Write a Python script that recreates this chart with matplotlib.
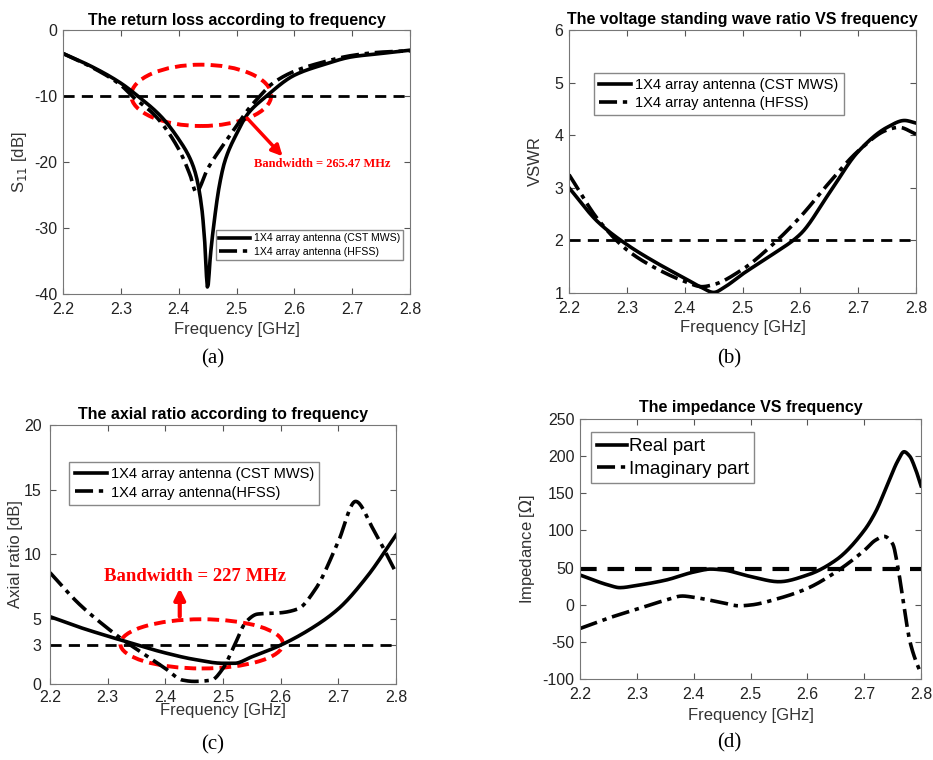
import matplotlib
matplotlib.use("Agg")
import matplotlib.pyplot as plt
from matplotlib.patches import Ellipse
import numpy as np

plt.rcParams['font.family'] = ['Liberation Sans', 'DejaVu Sans']
plt.rcParams['axes.unicode_minus'] = False

# (a) return loss
freq_a_cst = [2.2, 2.25, 2.3, 2.33, 2.37, 2.4, 2.42, 2.43, 2.44, 2.445, 2.45,
              2.455, 2.46, 2.47, 2.48, 2.5, 2.52, 2.55, 2.6, 2.65, 2.7, 2.75, 2.8]
s11_cst = [-3.5, -5.5, -8.0, -10.0, -13.1, -16.5, -19.5, -22.0, -27.0, -32.0, -39.0,
           -34.0, -30.0, -23.7, -19.8, -15.7, -12.6, -10.1, -6.8, -5.2, -4.0, -3.5, -3.0]
freq_a_hfss = [2.2, 2.25, 2.3, 2.32, 2.36, 2.4, 2.42, 2.43, 2.45, 2.48, 2.5, 2.52,
               2.54, 2.56, 2.6, 2.65, 2.7, 2.75, 2.8]
s11_hfss = [-3.5, -5.6, -8.3, -10.0, -13.0, -18.0, -22.0, -24.5, -21.0, -17.0, -14.5,
            -12.0, -10.0, -8.2, -6.2, -4.8, -3.8, -3.3, -3.1]

# (b) VSWR
freq_b_cst = [2.2, 2.25, 2.3, 2.35, 2.4, 2.43, 2.45, 2.47, 2.5, 2.55, 2.6, 2.65,
              2.7, 2.75, 2.78, 2.8]
vswr_cst = [3.0, 2.35, 1.92, 1.58, 1.28, 1.1, 1.01, 1.12, 1.36, 1.72, 2.12, 2.9,
            3.69, 4.15, 4.28, 4.23]
freq_b_hfss = [2.2, 2.25, 2.3, 2.35, 2.4, 2.43, 2.45, 2.5, 2.55, 2.6, 2.65, 2.7,
               2.75, 2.77, 2.8]
vswr_hfss = [3.25, 2.4, 1.82, 1.47, 1.22, 1.12, 1.16, 1.45, 1.9, 2.45, 3.1, 3.7,
             4.1, 4.15, 4.02]

# (c) axial ratio
freq_c_cst = [2.2, 2.25, 2.3, 2.33, 2.4, 2.45, 2.5, 2.52, 2.55, 2.6, 2.65, 2.7,
              2.75, 2.8]
ar_cst = [5.2, 4.4, 3.7, 3.3, 2.4, 1.9, 1.6, 1.6, 2.1, 3.0, 4.2, 5.8, 8.3, 11.5]
freq_c_hfss = [2.2, 2.25, 2.3, 2.33, 2.37, 2.4, 2.43, 2.45, 2.48, 2.5, 2.52, 2.54,
               2.56, 2.6, 2.63, 2.66, 2.7, 2.73, 2.76, 2.8]
ar_hfss = [8.6, 6.2, 4.3, 3.3, 2.1, 1.2, 0.3, 0.2, 0.3, 1.2, 3.0, 4.8, 5.4, 5.5,
           5.8, 7.3, 11.0, 14.1, 12.0, 8.6]

# (d) impedance
freq_d = [2.2, 2.25, 2.27, 2.3, 2.35, 2.4, 2.43, 2.45, 2.5, 2.55, 2.6, 2.65, 2.7,
          2.72, 2.74, 2.76, 2.77, 2.78, 2.79, 2.8]
z_real = [40, 26.5, 23, 26, 33, 44, 48, 47, 38, 31, 40, 60, 100, 125, 160, 195,
          206, 200, 183, 160]
freq_d_im = [2.2, 2.25, 2.3, 2.35, 2.38, 2.4, 2.45, 2.48, 2.5, 2.55, 2.6, 2.65,
             2.7, 2.72, 2.735, 2.75, 2.76, 2.77, 2.78, 2.79, 2.8]
z_imag = [-32, -18, -6, 6, 11.7, 10, 2.8, -1.5, -0.4, 8.6, 22, 44, 73, 87, 92,
          82, 47, -3, -48, -74, -93]

labels_sim = ["1X4 array antenna (CST MWS)", "1X4 array antenna (HFSS)"]
labels_sim_c = ["1X4 array antenna (CST MWS)", "1X4 array antenna(HFSS)"]
labels_z = ["Real part", "Imaginary part"]


def smooth(x, y, n=400):
    # monotone piecewise cubic (Fritsch-Carlson) through the read points
    x = np.asarray(x, float)
    y = np.asarray(y, float)
    h = np.diff(x)
    d = np.diff(y) / h
    m = np.zeros_like(y)
    m[0], m[-1] = d[0], d[-1]
    for k in range(1, len(x) - 1):
        if d[k - 1] * d[k] > 0:
            w1 = 2 * h[k] + h[k - 1]
            w2 = h[k] + 2 * h[k - 1]
            m[k] = (w1 + w2) / (w1 / d[k - 1] + w2 / d[k])
    xs = np.linspace(x[0], x[-1], n)
    k = np.clip(np.searchsorted(x, xs, side="right") - 1, 0, len(x) - 2)
    t = (xs - x[k]) / h[k]
    ys = ((2 * t ** 3 - 3 * t ** 2 + 1) * y[k] + (t ** 3 - 2 * t ** 2 + t) * h[k] * m[k]
          + (-2 * t ** 3 + 3 * t ** 2) * y[k + 1] + (t ** 3 - t ** 2) * h[k] * m[k + 1])
    return xs, ys


def style_ax(ax):
    ax.tick_params(direction="in", top=True, right=True, labelsize=11.5,
                   color="#555555", length=4, labelcolor="#222222")
    ax.tick_params(axis="x", pad=6)
    ax.tick_params(axis="y", pad=4)
    for sp in ax.spines.values():
        sp.set_color("#777777")
    ax.set_xlim(2.2, 2.8)
    ax.set_xticks([2.2, 2.3, 2.4, 2.5, 2.6, 2.7, 2.8])


lw = 2.6
hd = (0, (4, 2.6))
dd = (0, (5, 1.6, 1.2, 1.6))
leg_kw = dict(fancybox=False, edgecolor="#888888", framealpha=1)

fig = plt.figure(figsize=(9.33, 7.6), dpi=100)

# (a)
ax = fig.add_axes([0.0675, 0.613, 0.372, 0.347])
ax.plot(*smooth(freq_a_cst, s11_cst), "k-", lw=lw, label=labels_sim[0])
ax.plot(*smooth(freq_a_hfss, s11_hfss), "k", ls=dd, lw=lw, label=labels_sim[1])
ax.axhline(-10, color="k", ls=hd, lw=2)
ax.add_patch(Ellipse((2.439, -9.85), 0.242, 9.3, fill=False, ec="red",
                     lw=2.8, ls=(0, (3, 1.6))))
ax.annotate("", xy=(2.583, -19.4), xytext=(2.515, -13.0),
            arrowprops=dict(arrowstyle="-|>", color="red", lw=2.5,
                            mutation_scale=16))
ax.text(2.649, -20.3, "Bandwidth = 265.47 MHz", color="red", fontsize=9,
        fontweight="bold", family="Liberation Serif", ha="center", va="center")
ax.set_ylim(-40, 0)
ax.set_yticks([-40, -30, -20, -10, 0])
style_ax(ax)
ax.set_title("The return loss according to frequency", fontsize=11.5,
             fontweight="bold", pad=4)
ax.set_xlabel("Frequency [GHz]", fontsize=12, labelpad=3, color="#333333")
ax.set_ylabel("S$_{11}$ [dB]", fontsize=12, labelpad=4, color="#333333")
ax.legend(loc="lower right", fontsize=7.6, handlelength=3, borderpad=0.3,
          labelspacing=0.3, handletextpad=0.3, bbox_to_anchor=(0.995, 0.11),
          **leg_kw)
fig.text(0.2283, 0.528, "(a)", fontsize=15, family="Liberation Serif",
         ha="center", va="center")

# (b)
ax = fig.add_axes([0.6099, 0.6145, 0.372, 0.346])
ax.plot(*smooth(freq_b_cst, vswr_cst), "k-", lw=lw, label=labels_sim[0])
ax.plot(*smooth(freq_b_hfss, vswr_hfss), "k", ls=dd, lw=lw, label=labels_sim[1])
ax.axhline(2, color="k", ls=hd, lw=2)
ax.set_ylim(1, 6)
ax.set_yticks([1, 2, 3, 4, 5, 6])
style_ax(ax)
ax.set_title("The voltage standing wave ratio VS frequency", fontsize=11.5,
             fontweight="bold", pad=4)
ax.set_xlabel("Frequency [GHz]", fontsize=12, labelpad=3, color="#333333")
ax.set_ylabel("VSWR", fontsize=12, labelpad=8, color="#333333")
ax.legend(loc="upper left", fontsize=10.5, handlelength=2.2, borderpad=0.35,
          labelspacing=0.3, handletextpad=0.3, bbox_to_anchor=(0.05, 0.865),
          **leg_kw)
fig.text(0.782, 0.528, "(b)", fontsize=15, family="Liberation Serif",
         ha="center", va="center")

# (c)
ax = fig.add_axes([0.0536, 0.1, 0.3708, 0.3408])
ax.plot(*smooth(freq_c_cst, ar_cst), "k-", lw=lw, label=labels_sim_c[0])
ax.plot(*smooth(freq_c_hfss, ar_hfss), "k", ls=dd, lw=lw, label=labels_sim_c[1])
ax.axhline(3, color="k", ls=hd, lw=2)
ax.add_patch(Ellipse((2.463, 3.1), 0.282, 3.8, fill=False, ec="red",
                     lw=2.8, ls=(0, (3, 1.6))))
ax.annotate("", xy=(2.425, 7.6), xytext=(2.425, 5.0),
            arrowprops=dict(arrowstyle="-|>", color="red", lw=3,
                            mutation_scale=16))
ax.text(2.452, 8.3, "Bandwidth = 227 MHz", color="red", fontsize=13.5,
        fontweight="bold", family="Liberation Serif", ha="center", va="center")
ax.set_ylim(0, 20)
ax.set_yticks([0, 3, 5, 10, 15, 20])
style_ax(ax)
ax.tick_params(axis="x", pad=4)
ax.tick_params(axis="y", pad=6)
ax.set_title("The axial ratio according to frequency", fontsize=11.5,
             fontweight="bold", pad=4)
ax.set_xlabel("Frequency [GHz]", fontsize=12, labelpad=-1, color="#333333")
ax.set_ylabel("Axial ratio [dB]", fontsize=12, labelpad=1, color="#333333")
ax.legend(loc="upper left", fontsize=10.5, handlelength=2.2, borderpad=0.35,
          labelspacing=0.3, handletextpad=0.3, bbox_to_anchor=(0.035, 0.885),
          **leg_kw)
fig.text(0.2283, 0.02, "(c)", fontsize=15, family="Liberation Serif",
         ha="center", va="center")

# (d)
ax = fig.add_axes([0.6217, 0.1066, 0.3655, 0.342])
ax.plot(*smooth(freq_d, z_real), "k-", lw=lw, label=labels_z[0])
ax.plot(*smooth(freq_d_im, z_imag), "k", ls=dd, lw=lw, label=labels_z[1])
ax.axhline(48, color="k", ls=hd, lw=3)
ax.set_ylim(-100, 250)
ax.set_yticks(np.arange(-100, 251, 50))
style_ax(ax)
ax.set_title("The impedance VS frequency", fontsize=11.5, fontweight="bold", pad=5)
ax.set_xlabel("Frequency [GHz]", fontsize=12, labelpad=4, color="#333333")
ax.set_ylabel("Impedance [$\\Omega$]", fontsize=12, labelpad=4, color="#333333")
ax.legend(loc="upper left", fontsize=13.5, handlelength=1.6, borderpad=0.3,
          labelspacing=0.3, handletextpad=0.1, bbox_to_anchor=(0.005, 0.985),
          **leg_kw)
fig.text(0.782, 0.022, "(d)", fontsize=15, family="Liberation Serif",
         ha="center", va="center")

fig.savefig("out.png", dpi=100)
